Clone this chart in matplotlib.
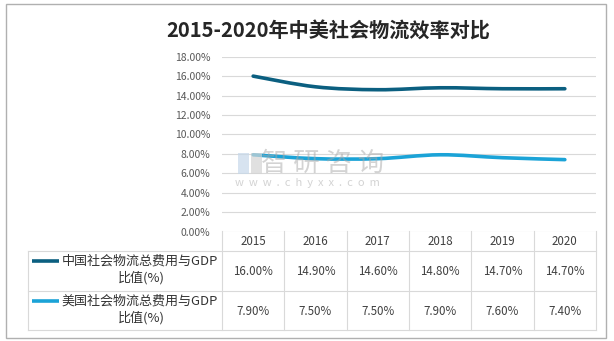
import numpy as np
import matplotlib
matplotlib.use("Agg")
import matplotlib.pyplot as plt
from matplotlib.path import Path
from matplotlib.patches import PathPatch, Rectangle

plt.rcParams['font.family'] = ['Noto Sans CJK SC', 'DejaVu Sans']

# data
years = ['2015', '2016', '2017', '2018', '2019', '2020']
china = [16.00, 14.90, 14.60, 14.80, 14.70, 14.70]
usa = [7.90, 7.50, 7.50, 7.90, 7.60, 7.40]
series_names = ['中国社会物流总费用与GDP\n比值(%)', '美国社会物流总费用与GDP\n比值(%)']
series_colors = ['#0B5F80', '#1BA3D7']
title = '2015-2020年中美社会物流效率对比'

W, H = 614, 341
fig = plt.figure(figsize=(W / 100, H / 100), dpi=100)


def box(x0, y0, x1, y1):
    # pixel box (top-left origin) -> figure fraction
    return [x0 / W, 1 - y1 / H, (x1 - x0) / W, (y1 - y0) / H]


# background layer in pixel coordinates
bg = fig.add_axes([0, 0, 1, 1])
bg.set_xlim(0, W)
bg.set_ylim(H, 0)
bg.axis('off')
bg.add_patch(Rectangle((5.5, 3.5), 600.5, 334, fill=False, ec='#B0B0B0', lw=1.0))
bg.text(328, 31, title, fontsize=14.5, fontweight='bold', color='#262626',
        ha='center', va='center')


def smooth_path(xs, ys):
    # catmull-rom style bezier segments, like a smoothed office line
    pts = np.column_stack([xs, ys]).astype(float)
    n = len(pts)
    verts = [pts[0]]
    codes = [Path.MOVETO]
    for i in range(n - 1):
        p0 = pts[max(i - 1, 0)]
        p1 = pts[i]
        p2 = pts[i + 1]
        p3 = pts[min(i + 2, n - 1)]
        c1 = p1 + (p2 - p0) / 6
        c2 = p2 - (p3 - p1) / 6
        verts += [c1, c2, p2]
        codes += [Path.CURVE4] * 3
    return Path(verts, codes)


# line chart
ax = fig.add_axes(box(222, 56.7, 596, 231.5))
ax.set_xlim(-0.5, len(years) - 0.5)
ax.set_ylim(0, 18)
ax.set_yticks(np.arange(0, 18.1, 2))
ax.yaxis.set_major_formatter(lambda v, p: f'{v:.2f}%')
ax.set_xticks([])
ax.tick_params(axis='y', length=0, pad=8.5, labelsize=7.5, labelcolor='#595959')
for s in ax.spines.values():
    s.set_visible(False)
ax.yaxis.grid(True, color='#D9D9D9', lw=0.8)
ax.set_axisbelow(True)
ax.patch.set_alpha(0)

x = np.arange(len(years))
for vals, col in zip([china, usa], series_colors):
    ax.add_patch(PathPatch(smooth_path(x, vals), fill=False, ec=col, lw=2.6,
                           capstyle='round', joinstyle='round', zorder=3))

# data table below the plot
tab = fig.add_axes(box(222, 231.5, 596, 330))
tab.set_xlim(-0.5, len(years) - 0.5)
tab.set_ylim(330, 231.5)
tab.axis('off')
grid_c = '#D9D9D9'
for k in range(len(years) + 1):
    tab.plot([k - 0.5, k - 0.5], [231.5, 330], color=grid_c, lw=0.8, clip_on=False)
for yy in [251, 291, 330]:
    bg.plot([28, 596], [yy, yy], color=grid_c, lw=0.8)
bg.plot([28, 28], [251, 330], color=grid_c, lw=0.8)

for i, yr in enumerate(years):
    tab.text(i, 241.5, yr, fontsize=8.3, color='#404040', ha='center', va='center')
    tab.text(i, 271.5, f'{china[i]:.2f}%', fontsize=8.3, color='#404040',
             ha='center', va='center')
    tab.text(i, 311.5, f'{usa[i]:.2f}%', fontsize=8.3, color='#404040',
             ha='center', va='center')

# legend keys in the first column
for row_y, name, col in zip([261, 301], series_names, series_colors):
    bg.plot([32, 59], [row_y, row_y], color=col, lw=2.6, solid_capstyle='butt')
    first, second = name.split('\n')
    bg.text(139.5, row_y, first, fontsize=9.4, color='#333333', ha='center', va='center')
    bg.text(141, row_y + 17, second, fontsize=9.4, color='#333333', ha='center', va='center')

# site watermark
fig.patches.append(Rectangle((238 / W, 1 - 174 / H), 11 / W, 21 / H, transform=fig.transFigure,
                             fc='#C6D8EA', ec='none', alpha=0.7, zorder=4))
fig.patches.append(Rectangle((251 / W, 1 - 174 / H), 11 / W, 21 / H, transform=fig.transFigure,
                             fc='#D4D4D4', ec='none', alpha=0.7, zorder=4))
fig.text(323 / W, 1 - 163 / H, '智 研 咨 询', fontsize=19, color='#A8A8A8', alpha=0.5,
         ha='center', va='center', zorder=5)
fig.text(307 / W, 1 - 183 / H, 'w  w  w  .  c  h  y  x  x  .  c  o  m', fontsize=8,
         color='#A8A8A8', alpha=0.5, ha='center', va='center', zorder=5)

fig.savefig('out.png', dpi=100)
